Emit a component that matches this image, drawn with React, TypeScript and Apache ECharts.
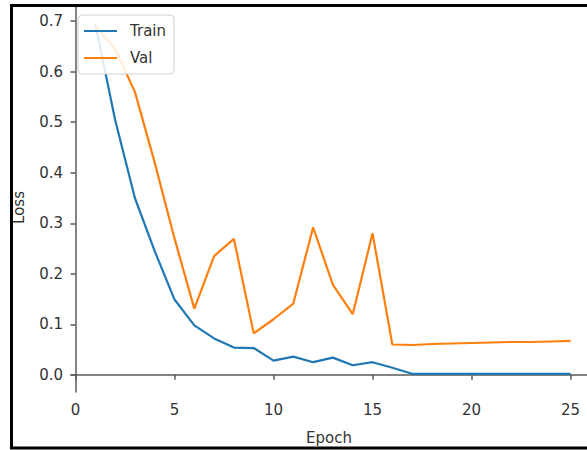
import React, { useEffect, useRef } from "react";
import * as echarts from "echarts";

const epochs = [1, 2, 3, 4, 5, 6, 7, 8, 9, 10, 11, 12, 13, 14, 15, 16, 17, 18, 19, 20, 21, 22, 23, 24, 25];
const trainLoss = [0.695, 0.505, 0.35, 0.245, 0.149, 0.098, 0.072, 0.054, 0.053, 0.028, 0.036, 0.025, 0.034, 0.019, 0.025, 0.014, 0.002, 0.002, 0.002, 0.002, 0.002, 0.002, 0.002, 0.002, 0.002];
const valLoss = [0.69, 0.645, 0.56, 0.42, 0.27, 0.131, 0.235, 0.269, 0.082, 0.11, 0.141, 0.292, 0.178, 0.12, 0.28, 0.06, 0.059, 0.061, 0.062, 0.063, 0.064, 0.065, 0.065, 0.066, 0.067];
const xTicks = [0, 5, 10, 15, 20, 25];
const yTicks = [0, 0.1, 0.2, 0.3, 0.4, 0.5, 0.6, 0.7];

const FONT = "DejaVu Sans";
const AXIS_COLOR = "#5a5a5a";
const TEXT_COLOR = "#333333";

export default function App() {
  const ref = useRef<HTMLDivElement>(null);
  useEffect(() => {
    document.body.style.margin = "0";
    const chart = echarts.init(ref.current!, null, { renderer: "svg" });
    chart.setOption({
      animation: false,
      backgroundColor: "#ffffff",
      grid: { left: 71, right: 0, top: 5, bottom: 58, containLabel: false, outerBoundsMode: "none" },
      legend: {
        orient: "vertical",
        left: 78,
        top: 15,
        padding: [8, 8, 8, 6],
        itemGap: 11,
        itemWidth: 33,
        itemHeight: 2,
        icon: "rect",
        borderColor: "#d0d0d0",
        borderWidth: 1,
        borderRadius: 4,
        backgroundColor: "rgba(255,255,255,0.85)",
        textStyle: { fontFamily: FONT, fontSize: 15, color: TEXT_COLOR, lineHeight: 16, padding: [0, 0, 0, 8] },
        data: ["Train", "Val"],
      },
      xAxis: {
        type: "value",
        min: -0.227,
        max: 25.83,
        name: "Epoch",
        nameLocation: "middle",
        nameGap: 38,
        nameTextStyle: { fontFamily: FONT, fontSize: 15, color: TEXT_COLOR },
        axisLine: { show: true, lineStyle: { color: AXIS_COLOR, width: 1.5 } },
        axisTick: { show: true, length: 5, customValues: xTicks, lineStyle: { color: AXIS_COLOR, width: 1.5 } },
        axisLabel: {
          customValues: xTicks,
          margin: 10,
          fontFamily: FONT,
          fontSize: 15,
          color: TEXT_COLOR,
          formatter: (v: number) => String(v),
        },
        splitLine: { show: false },
      },
      yAxis: {
        type: "value",
        min: -0.034,
        max: 0.732,
        name: "Loss",
        nameLocation: "middle",
        nameGap: 45,
        nameTextStyle: { fontFamily: FONT, fontSize: 15, color: TEXT_COLOR, padding: [0, 18, 0, 0] },
        axisLine: { show: true, lineStyle: { color: AXIS_COLOR, width: 1.5 } },
        axisTick: { show: true, length: 5, customValues: yTicks, lineStyle: { color: AXIS_COLOR, width: 1.5 } },
        axisLabel: {
          customValues: yTicks,
          margin: 8,
          fontFamily: FONT,
          fontSize: 15,
          color: TEXT_COLOR,
          formatter: (v: number) => v.toFixed(1),
        },
        splitLine: { show: false },
      },
      series: [
        {
          name: "Train",
          type: "line",
          symbol: "none",
          data: epochs.map((e, i) => [e, trainLoss[i]]),
          lineStyle: { color: "#1f77b4", width: 2.2 },
          itemStyle: { color: "#1f77b4" },
        },
        {
          name: "Val",
          type: "line",
          symbol: "none",
          data: epochs.map((e, i) => [e, valLoss[i]]),
          lineStyle: { color: "#ff7f0e", width: 2.2 },
          itemStyle: { color: "#ff7f0e" },
        },
      ],
      graphic: [
        { type: "line", silent: true, z: 100, shape: { x1: 10, y1: 5.5, x2: 587, y2: 5.5 }, style: { stroke: "#000", lineWidth: 3 } },
        { type: "line", silent: true, z: 100, shape: { x1: 11.5, y1: 4, x2: 11.5, y2: 449 }, style: { stroke: "#000", lineWidth: 3 } },
        { type: "line", silent: true, z: 100, shape: { x1: 10, y1: 448, x2: 587, y2: 448 }, style: { stroke: "#000", lineWidth: 3 } },
      ],
    });
    return () => chart.dispose();
  }, []);
  return <div ref={ref} style={{ width: 587, height: 450 }} />;
}
